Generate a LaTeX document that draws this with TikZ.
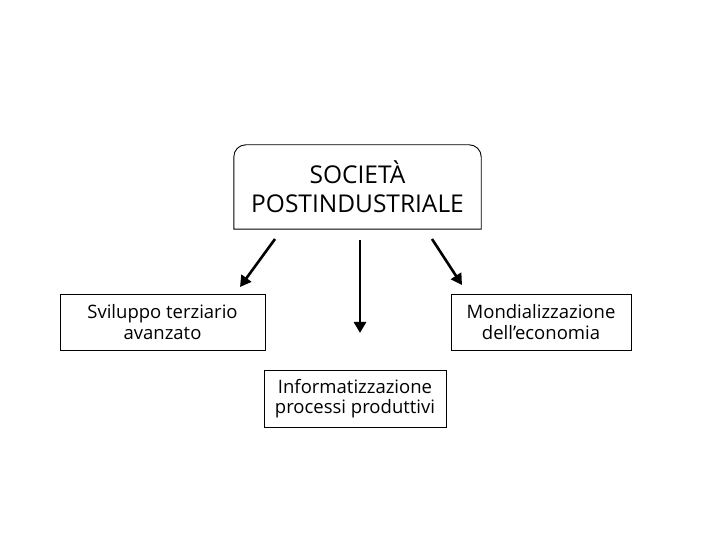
\documentclass[tikz,border=0pt]{standalone}
\usepackage{fontspec}
\setmainfont{Open Sans}
\usetikzlibrary{arrows.meta}
\begin{document}
\begin{tikzpicture}[x=1pt,y=1pt,
  box/.style={draw=black,line width=0.9pt,align=center,inner sep=0pt,
    font=\fontsize{18.5}{20.5}\selectfont},
  arr/.style={line width=2.6pt,-{Triangle[length=11pt,width=12pt]}}]
\useasboundingbox (0,0) rectangle (720,540);
\fill[white] (0,0) rectangle (720,540);
% top box
\node[align=center,minimum width=247pt,minimum height=84pt,inner sep=0pt,
  font=\fontsize{24.5}{29}\selectfont] (top) at (357.5,353) {SOCIETÀ\\POSTINDUSTRIALE};
\draw[line width=0.9pt] (top.south west) -- ([yshift=-12pt]top.north west)
  arc[start angle=180,end angle=90,radius=12pt]
  -- ([xshift=-12pt]top.north east)
  arc[start angle=90,end angle=0,radius=12pt]
  -- (top.south east) -- cycle;
\node[box,minimum width=205pt,minimum height=56pt] (left) at (162.5,218) {Sviluppo terziario\\avanzato};
\node[box,minimum width=180pt,minimum height=56pt] (right) at (541,218) {Mondializzazione\\dell’economia};
\node[box,minimum width=182pt,minimum height=57pt] (mid) at (355,141.5) {Informatizzazione\\processi produttivi};
% arrows
\coordinate (a1s) at (275,301); \coordinate (a1e) at (240,253);
\coordinate (a2s) at (360,300); \coordinate (a2e) at (360,207);
\coordinate (a3s) at (432,301); \coordinate (a3e) at (462,255);
\draw[arr] (a1s) -- (a1e);
\draw[arr] (a2s) -- (a2e);
\draw[arr] (a3s) -- (a3e);
\end{tikzpicture}
\end{document}
